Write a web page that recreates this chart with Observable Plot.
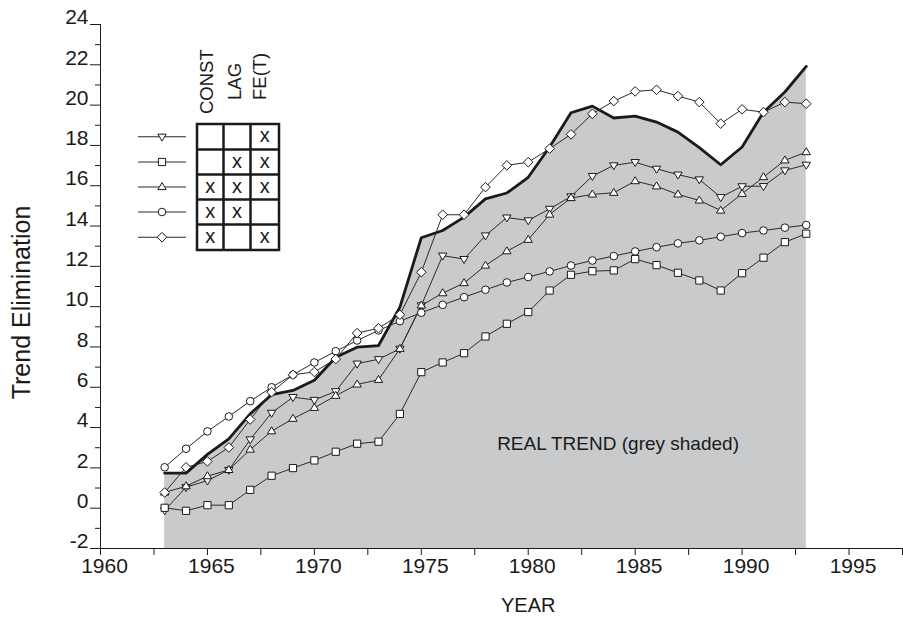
<!DOCTYPE html>
<html>
<head>
<meta charset="utf-8">
<script src="https://cdn.jsdelivr.net/npm/d3@7"></script>
<script src="https://cdn.jsdelivr.net/npm/@observablehq/plot@0.6"></script>
<style>
  html, body { margin: 0; padding: 0; background: #fff; }
  #chart { width: 903px; height: 619px; }
</style>
</head>
<body>
<div id="chart"></div>
<script>
// ---------------- DATA ----------------
const years = [1963,1964,1965,1966,1967,1968,1969,1970,1971,1972,1973,1974,1975,1976,1977,1978,1979,1980,1981,1982,1983,1984,1985,1986,1987,1988,1989,1990,1991,1992,1993];

// REAL TREND (grey shaded, thick line)
const realTrend = [1.74,1.74,2.67,3.44,4.68,5.63,5.84,6.35,7.49,7.99,8.07,9.98,13.42,13.78,14.44,15.35,15.64,16.42,17.92,19.62,19.95,19.36,19.45,19.16,18.66,17.89,17.04,17.92,19.65,20.65,21.92];

// ▽ : FE(T)
const seriesDownTri = [-0.11,1.04,1.37,1.90,3.41,4.73,5.51,5.37,5.80,7.17,7.39,7.91,10.06,12.53,12.36,13.53,14.42,14.28,14.85,15.47,16.48,17.01,17.17,16.84,16.55,16.31,15.43,15.97,15.98,16.76,17.04];
// □ : LAG, FE(T)
const seriesSquare = [0.02,-0.13,0.15,0.15,0.91,1.61,1.99,2.37,2.80,3.20,3.30,4.68,6.75,7.23,7.69,8.52,9.15,9.73,10.80,11.58,11.76,11.80,12.36,12.06,11.68,11.30,10.80,11.66,12.43,13.20,13.62];
// △ : CONST, LAG, FE(T)
const seriesUpTri = [0.78,1.09,1.59,1.90,2.91,3.82,4.44,4.98,5.58,6.14,6.37,7.91,10.06,10.67,11.17,12.04,12.75,13.32,14.57,15.39,15.57,15.65,16.23,15.97,15.57,15.27,14.77,15.60,16.43,17.26,17.67];
// ○ : CONST, LAG
const seriesCircle = [2.03,2.95,3.81,4.55,5.31,6.00,6.62,7.23,7.79,8.32,8.82,9.28,9.70,10.09,10.47,10.84,11.20,11.47,11.75,12.04,12.29,12.51,12.74,12.95,13.14,13.29,13.47,13.65,13.78,13.92,14.05];
// ◇ : CONST, FE(T)
const seriesDiamond = [0.78,2.03,2.32,3.01,4.40,5.76,6.62,6.76,7.40,8.69,8.93,9.60,11.71,14.56,14.56,15.93,17.01,17.17,17.84,18.55,19.57,20.20,20.68,20.76,20.45,20.15,19.08,19.79,19.65,20.15,20.07];

// legend table
const tableHeaders = ["CONST", "LAG", "FE(T)"];
const tableRows = [[0,0,1],[0,1,1],[1,1,1],[1,1,0],[1,0,1]]; // ▽ □ △ ○ ◇

// axis ticks
const yMajorTicks = [-2,0,2,4,6,8,10,12,14,16,18,20,22,24];
const yMinorTicks = [-1,1,3,5,7,9,11,13,15,17,19,21,23];
const xMajorTicks = [1960,1965,1970,1975,1980,1985,1990,1995];
const xMinorTicks = [1962.5,1967.5,1972.5,1977.5,1982.5,1987.5,1992.5,1997.5];

const yLabel = "Trend Elimination";
const xLabel = "YEAR";
const areaLabel = "REAL TREND (grey shaded)";

// ---------------- SYMBOLS ----------------
const symDown = {draw(c){ c.moveTo(-4.2,-2.6); c.lineTo(4.2,-2.6); c.lineTo(0,4.4); c.closePath(); }};
const symUp = {draw(c){ c.moveTo(-4.2,2.6); c.lineTo(4.2,2.6); c.lineTo(0,-4.4); c.closePath(); }};
const symSquare = {draw(c){ c.rect(-3.6,-3.6,7.2,7.2); }};
const symCircle = {draw(c){ c.moveTo(3.8,0); c.arc(0,0,3.8,0,2*Math.PI); c.closePath(); }};
const symDiamond = {draw(c){ c.moveTo(0,-4.8); c.lineTo(4.8,0); c.lineTo(0,4.8); c.lineTo(-4.8,0); c.closePath(); }};

const series = [
  {values: seriesDownTri, symbol: symDown},
  {values: seriesSquare, symbol: symSquare},
  {values: seriesUpTri, symbol: symUp},
  {values: seriesCircle, symbol: symCircle},
  {values: seriesDiamond, symbol: symDiamond}
];

const trendRows = years.map((year, i) => ({year, value: realTrend[i]}));

const fontFamily = "'Liberation Sans', Arial, Helvetica, sans-serif";
const ink = "#1a1a1a";

const seriesMarks = series.flatMap(s => {
  const rows = years.map((year, i) => ({year, value: s.values[i]}));
  return [
    Plot.line(rows, {x: "year", y: "value", stroke: "#2a2a2a", strokeWidth: 1}),
    Plot.dot(rows, {x: "year", y: "value", symbol: s.symbol, fill: "white", stroke: ink, strokeWidth: 1})
  ];
});

const chart = Plot.plot({
  width: 903,
  height: 619,
  marginLeft: 100,
  marginRight: 1,
  marginTop: 24,
  marginBottom: 71,
  style: {fontFamily, fontSize: "20px", background: "white", color: ink},
  x: {domain: [1960, 1997.5], label: null},
  y: {domain: [-2, 24], label: null},
  marks: [
    Plot.areaY(trendRows, {x: "year", y1: -2, y2: "value", fill: "#c9cacc"}),
    Plot.line(trendRows, {x: "year", y: "value", stroke: ink, strokeWidth: 2.8, strokeLinejoin: "round"}),
    ...seriesMarks,
    Plot.ruleX([1960], {stroke: ink, strokeWidth: 1}),
    Plot.ruleY([-2], {stroke: ink, strokeWidth: 1}),
    Plot.axisY({ticks: yMinorTicks, tickSize: 5, fill: "none", stroke: ink, label: null}),
    Plot.axisY({ticks: yMajorTicks, tickSize: 10, fill: "none", stroke: ink, label: null}),
    Plot.axisY({ticks: yMajorTicks, tickSize: 10, tickPadding: 2, stroke: "none", fill: ink, dy: -7, fontSize: 21, label: null, tickFormat: d => String(d)}),
    Plot.axisX({ticks: [...xMajorTicks, ...xMinorTicks], tickSize: 7, fill: "none", stroke: ink, label: null}),
    Plot.axisX({ticks: xMajorTicks, tickSize: 7, tickPadding: 3, stroke: "none", fill: ink, dx: 4, fontSize: 21, label: null, tickFormat: d => String(d)}),
    Plot.text([yLabel], {frameAnchor: "left", textAnchor: "middle", dx: -79, dy: 16, rotate: -90, fontSize: 25, fill: ink}),
    Plot.text([xLabel], {x: () => 1980, y: () => -2, dy: 57, fontSize: 20, fill: ink}),
    Plot.text([areaLabel], {x: () => 1984.2, y: () => 3.2, fontSize: 19, fill: ink})
  ]
});

document.getElementById("chart").appendChild(chart);

// ---------------- LEGEND TABLE ----------------
const svg = d3.select(chart);
const g = svg.append("g").attr("font-family", fontFamily).attr("fill", ink);
const colEdges = [197, 223.5, 250.5, 279];
const rowEdges = [124, 149.5, 174.5, 199.5, 224.5, 250];
const headerBaselineX = [213, 241, 266];
const headerStartY = [114, 100, 100];

tableHeaders.forEach((h, j) => {
  g.append("text")
    .attr("transform", `translate(${headerBaselineX[j]},${headerStartY[j]}) rotate(-90)`)
    .attr("font-size", 18.5)
    .attr("text-anchor", "start")
    .text(h);
});

// cell grid
const grid = g.append("g").attr("stroke", ink).attr("stroke-width", 2.5).attr("fill", "none");
grid.append("rect").attr("x", colEdges[0]).attr("y", rowEdges[0])
  .attr("width", colEdges[3] - colEdges[0]).attr("height", rowEdges[5] - rowEdges[0]).attr("fill", "white");
colEdges.slice(1, 3).forEach(x => grid.append("line").attr("x1", x).attr("x2", x).attr("y1", rowEdges[0]).attr("y2", rowEdges[5]));
rowEdges.slice(1, 5).forEach(y => grid.append("line").attr("x1", colEdges[0]).attr("x2", colEdges[3]).attr("y1", y).attr("y2", y));

tableRows.forEach((row, i) => {
  const cy = (rowEdges[i] + rowEdges[i + 1]) / 2;
  row.forEach((v, j) => {
    if (!v) return;
    const cx = (colEdges[j] + colEdges[j + 1]) / 2;
    g.append("text").attr("x", cx).attr("y", cy + 5.5).attr("text-anchor", "middle").attr("font-size", 20).text("x");
  });
  // legend sample line with marker
  g.append("line").attr("x1", 138).attr("x2", 186).attr("y1", cy).attr("y2", cy).attr("stroke", "#2a2a2a").attr("stroke-width", 1);
  g.append("path").attr("transform", `translate(162,${cy})`)
    .attr("d", d3.symbol().type(series[i].symbol)())
    .attr("fill", "white").attr("stroke", ink).attr("stroke-width", 1);
});
</script>
</body>
</html>
